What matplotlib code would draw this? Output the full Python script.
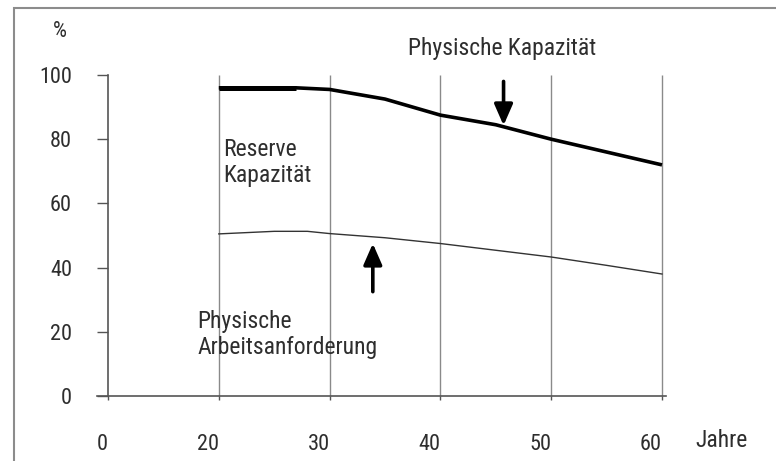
import numpy as np
import matplotlib
matplotlib.use("Agg")
import matplotlib.pyplot as plt
from matplotlib.patches import Rectangle

plt.rcParams['font.family'] = ['Roboto Condensed', 'DejaVu Sans']
plt.rcParams['font.weight'] = 'normal'

# ---- data ----
x_ticks = [0, 20, 30, 40, 50, 60]
x_tick_labels = ['0', '20', '30', '40', '50', '60']
y_ticks = [0, 20, 40, 60, 80, 100]
grid_years = [20, 30, 40, 50, 60]

capacity_age = [20, 25, 27, 30, 35, 40, 45, 50, 55, 60]
capacity_val = [96, 96, 96, 95.5, 92.5, 87.5, 84.5, 80, 76, 72]

demand_age = [20, 25, 28, 30, 35, 40, 45, 50, 55, 60]
demand_val = [50.5, 51.3, 51.3, 50.6, 49.3, 47.5, 45.4, 43.3, 40.7, 38]

W, H = 776, 461
fig = plt.figure(figsize=(W / 100, H / 100), dpi=100)

# axes rectangle in pixels (left, top, right, bottom)
L, T, R, B = 60, 20, 720, 450
ax = fig.add_axes([L / W, 1 - B / H, (R - L) / W, (B - T) / H])


def fwd(x):
    x = np.asarray(x, dtype=float)
    return np.where(x <= 20, x / 2.0, x - 10.0)


def inv(p):
    p = np.asarray(p, dtype=float)
    return np.where(p <= 10, p * 2.0, p + 10.0)


ax.set_xscale('function', functions=(fwd, inv))
px_per_pos = (662 - 108) / 50.0
pos_left = (L - 108) / px_per_pos
pos_right = (R - 108) / px_per_pos
ax.set_xlim(float(inv(pos_left)), float(inv(pos_right)))
px_per_y = (396 - 75) / 100.0
ax.set_ylim(-(B - 396) / px_per_y, (396 - T) / px_per_y)

for s in ['top', 'right']:
    ax.spines[s].set_visible(False)
ax.spines['left'].set_position(('data', 0))
ax.spines['bottom'].set_position(('data', 0))
ax.spines['left'].set_bounds(0, 100)
ax.spines['bottom'].set_bounds(-2, 60.4)
for s in ['left', 'bottom']:
    ax.spines[s].set_color('#555555')
    ax.spines[s].set_linewidth(1.2)

tc = '#2e2e2e'
fs = 17

ax.set_xticks(x_ticks)
ax.set_xticklabels(x_tick_labels)
ax.set_yticks(y_ticks)
ax.xaxis.set_minor_locator(plt.NullLocator())
ax.tick_params(axis='y', direction='out', length=8, width=1.0, color='#555555',
               pad=18, labelsize=fs - 1, labelcolor=tc)
ax.tick_params(axis='x', direction='out', length=3, width=1.0, color='#555555',
               pad=24, labelsize=fs - 1, labelcolor=tc)
plt.setp(ax.get_xticklabels(), ha='right')

# vertical grid lines
ax.vlines(grid_years, 0, 100, colors='#8a8a8a', linewidth=1.0, zorder=1)

# curves
ax.plot(capacity_age, capacity_val, color='black', linewidth=2.6, zorder=3,
        solid_capstyle='butt')
ax.plot(capacity_age[:3], capacity_val[:3], color='black', linewidth=3.6, zorder=3,
        solid_capstyle='butt')
ax.plot(demand_age, demand_val, color='#333333', linewidth=1.0, zorder=3)

# arrows
ax.annotate('', xy=(45.7, 84.3), xytext=(45.7, 98),
            arrowprops=dict(arrowstyle='-|>,head_width=0.35,head_length=0.8',
                            color='black', lw=2.6, mutation_scale=16,
                            shrinkA=0, shrinkB=0))
ax.annotate('', xy=(33.9, 47.5), xytext=(33.9, 32.5),
            arrowprops=dict(arrowstyle='-|>,head_width=0.35,head_length=0.8',
                            color='black', lw=2.6, mutation_scale=16,
                            shrinkA=0, shrinkB=0))

ax.text(37.1, 108.3, 'Physische Kapazität', fontsize=fs, color=tc, ha='left', va='center')
ax.text(20.4, 72.8, 'Reserve\nKapazität', fontsize=fs, color=tc, ha='left', va='center',
        linespacing=1.2)
ax.text(16.1, 19.2, 'Physische\nArbeitsanforderung', fontsize=fs, color=tc, ha='left',
        va='center', linespacing=1.2)
ax.text(-8.7, 113.5, '%', fontsize=fs - 1, color=tc, ha='center', va='center')
ax.text(63.0, -14.0, 'Jahre', fontsize=fs, color=tc, ha='left', va='center')

# outer frame
fig.patches.append(Rectangle((14 / W, -0.05), 1.2, 1 - 8 / H + 0.05,
                             transform=fig.transFigure, fill=False,
                             edgecolor='#8c8c8c', linewidth=1.5))

fig.savefig('out.png', dpi=100)
